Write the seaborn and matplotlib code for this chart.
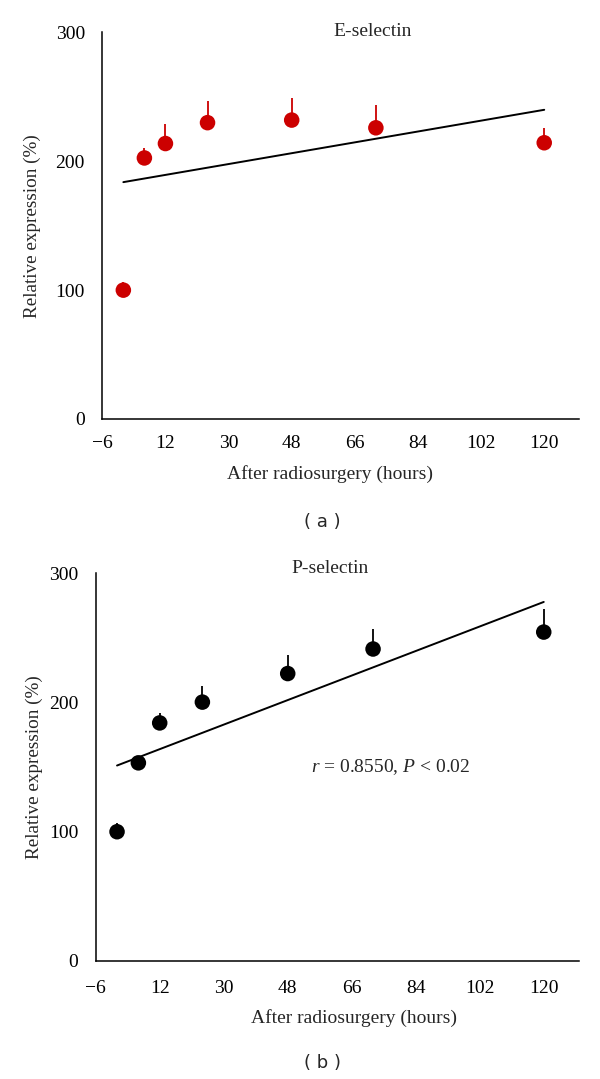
#==========================================================
#                 Importation des modules
#==========================================================

import numpy as np
import matplotlib
matplotlib.use("Agg")
import matplotlib.pyplot as plt
import seaborn as sb
import pandas as pd


#==========================================================
#                 Données
#==========================================================

heures = [0, 6, 12, 24, 48, 72, 120]

e_selectine = [100, 202.6, 213.8, 230, 232, 226, 214.4]
e_erreur = [6, 8, 15, 16.5, 17, 18, 11.5]

p_selectine = [100, 153.3, 184.2, 200.3, 222.4, 241.4, 254.5]
p_erreur = [6.5, 4, 7.5, 12.7, 14.6, 15.6, 17.5]

x_ticks = [-6, 12, 30, 48, 66, 84, 102, 120]
y_ticks = [0, 100, 200, 300]


#==========================================================
#                 Création des fonctions
#==========================================================

def panneau(ax, valeurs, erreurs, couleur, titre, pos_titre, pos_xlabel, pos_ylabel, pad_x):
    df = pd.DataFrame({"heure": heures, "expression": valeurs})
    # barres d'erreur vers le haut seulement
    ax.errorbar(df["heure"], df["expression"],
                yerr=[np.zeros(len(erreurs)), erreurs],
                fmt="none", ecolor=couleur, elinewidth=1.3, capsize=0, zorder=2)
    # droite de régression
    sb.regplot(data=df, x="heure", y="expression", ax=ax, ci=None, scatter=False,
               line_kws=dict(color="black", lw=1.4, zorder=1))
    # points
    sb.scatterplot(data=df, x="heure", y="expression", ax=ax, color=couleur,
                   s=125, edgecolor="none", zorder=3)

    ax.set_xlim(-6, 130)
    ax.set_ylim(0, 300)
    ax.set_xticks(x_ticks)
    ax.set_yticks(y_ticks)
    ax.set_xticklabels([str(t).replace("-", "\u2212") for t in x_ticks])
    ax.tick_params(direction="out", length=5, width=1, labelsize=14,
                   color="black", labelcolor="black")
    ax.tick_params(axis="x", pad=pad_x)
    ax.tick_params(axis="y", pad=7.5)
    for c in ["left", "bottom"]:
        ax.spines[c].set_linewidth(1.1)
        ax.spines[c].set_color("black")
    sb.despine(ax=ax)

    ax.set_xlabel("After radiosurgery (hours)", fontsize=14)
    ax.set_ylabel("Relative expression (%)", fontsize=13.8)
    ax.xaxis.set_label_coords(pos_xlabel[0], pos_xlabel[1])
    ax.yaxis.set_label_coords(pos_ylabel, 0.5)
    ax.text(pos_titre[0], pos_titre[1], titre, ha="center", va="center", fontsize=14)


sb.set_style("white")
plt.rcParams["font.family"] = ["Liberation Serif", "DejaVu Serif"]
plt.rcParams["mathtext.fontset"] = "custom"
plt.rcParams["mathtext.it"] = "Liberation Serif:italic"
plt.rcParams["mathtext.rm"] = "Liberation Serif"

fig = plt.figure(figsize=(6, 10.79), dpi=100)
ax1 = fig.add_axes([0.1705, 0.6117, 0.795, 0.3582])
ax2 = fig.add_axes([0.1595, 0.1094, 0.806, 0.3593])

panneau(ax1, e_selectine, e_erreur, "#cc0000", "E-selectin", (71, 301),
        (0.477, -0.119), -0.128, 6.5)
panneau(ax2, p_selectine, p_erreur, "black", "P-selectin", (60, 304),
        (0.535, -0.124), -0.11, 9)

ax2.text(54.5, 150, r"$r$ = 0.8550, $P$ < 0.02", ha="left", va="center", fontsize=14)

fig.text(322 / 600, 1 - 522 / 1079, "( a )", ha="center", va="center",
         fontsize=13, family=["DejaVu Sans"])
fig.text(323 / 600, 1 - 1063 / 1079, "( b )", ha="center", va="center",
         fontsize=13, family=["DejaVu Sans"])

fig.savefig("out.png", dpi=100)
